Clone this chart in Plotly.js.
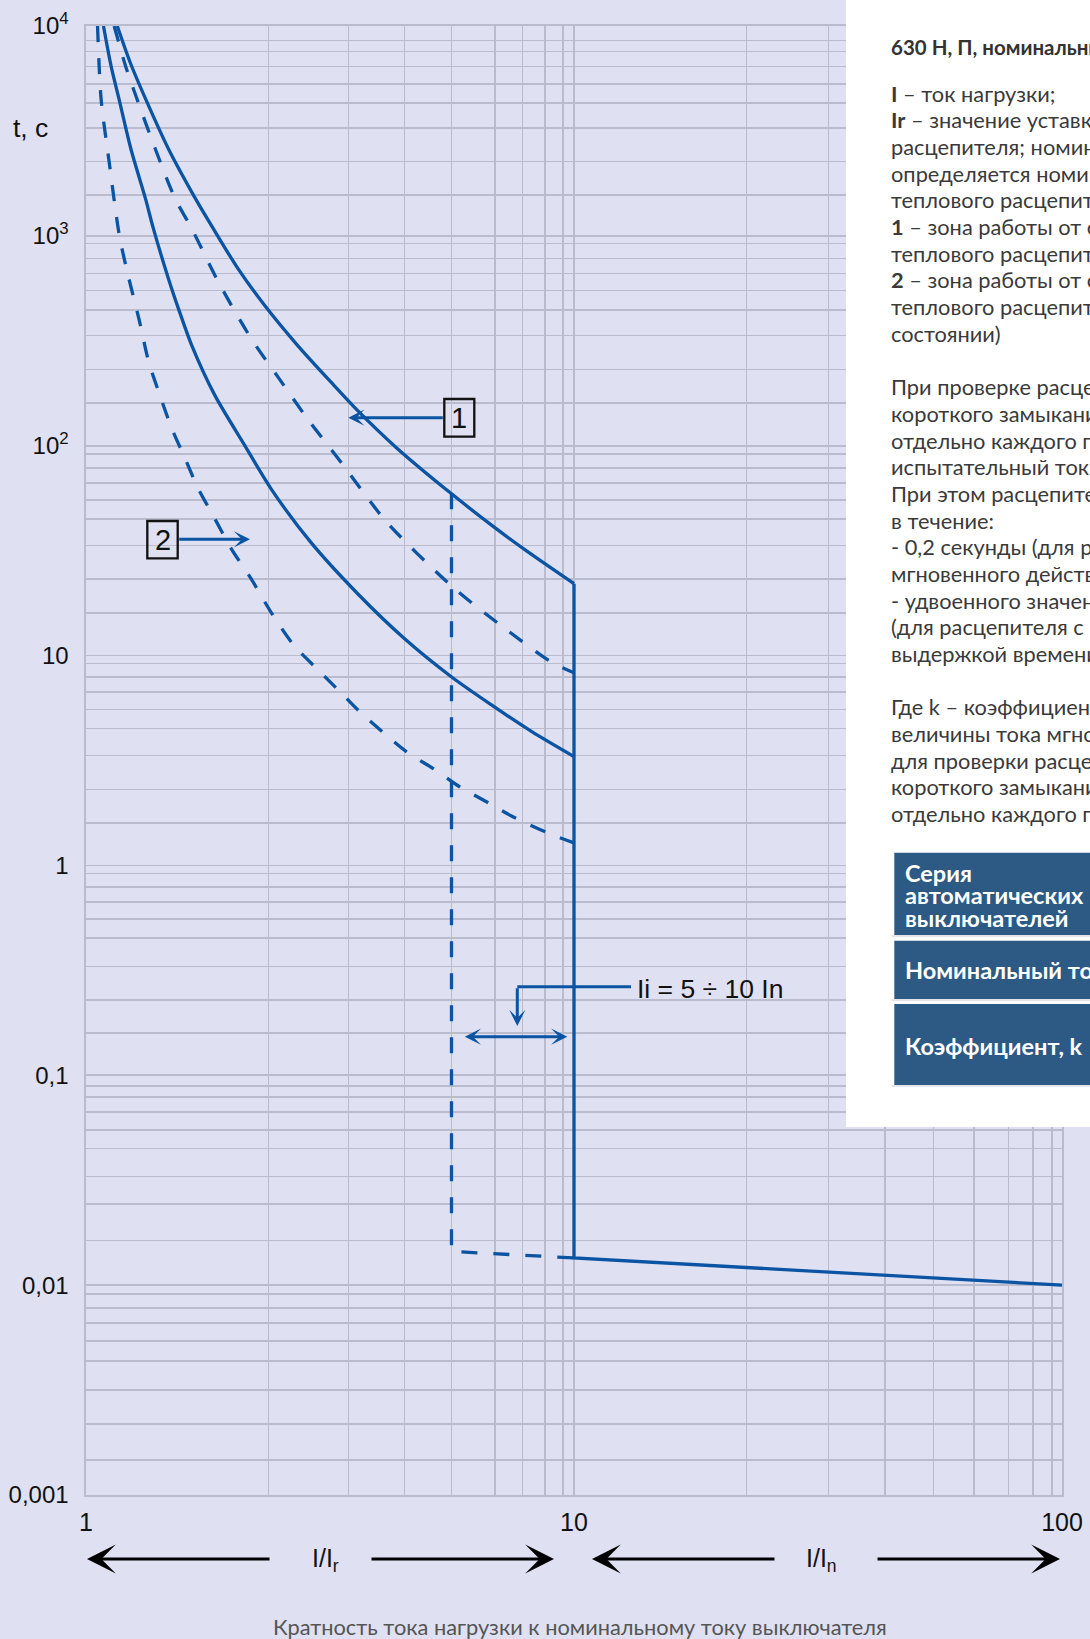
<!DOCTYPE html>
<html>
<head>
<meta charset="utf-8">
<script src="https://cdn.plot.ly/plotly-3.0.1.min.js"></script>
<style>
html,body{margin:0;padding:0;background:#dfe0f1;}
#chart{width:1090px;height:1639px;}
</style>
</head>
<body>
<div id="chart"></div>
<script>
// ---------- DATA ----------
// Zone 1, outer solid curve (upper limit) — I/Ir vs t, s
const curve1Upper_x = [1.159, 1.233, 1.326, 1.476, 1.667, 1.822, 2.047, 2.320, 2.710, 3.218, 3.587, 4.325, 5.595, 6.797, 7.941, 10];
const curve1Upper_y = [10000, 6663, 4468, 2593, 1538, 1085, 700, 468, 301.7, 194.5, 148.6, 97.9, 59.3, 41.6, 31.87, 22.0];
// Zone 1, inner solid curve (lower limit)
const curve1Lower_x = [1.086, 1.126, 1.169, 1.236, 1.324, 1.374, 1.475, 1.559, 1.646, 1.836, 2.113, 2.393, 2.884, 3.604, 4.497, 5.595, 6.797, 8.194, 10];
const curve1Lower_y = [10000, 6421, 4468, 2593, 1504, 1085, 627, 427, 301.7, 174.2, 100.7, 62.5, 34.8, 19.71, 12.02, 7.95, 5.79, 4.34, 3.30];
// Zone 2, dashed upper curve
const curve2Upper_x = [1.142, 1.206, 1.273, 1.387, 1.523, 1.646, 1.874, 2.179, 2.469, 2.840, 3.345, 4.128, 5.595, 7.010, 8.999, 10];
const curve2Upper_y = [10000, 6421, 4468, 2593, 1504, 1085, 593.8, 324.7, 213.9, 134.9, 82.3, 43.4, 21.6, 14.17, 9.30, 8.28];
// Zone 2, dashed lower curve
const curve2Lower_x = [1.056, 1.074, 1.115, 1.171, 1.224, 1.283, 1.344, 1.409, 1.499, 1.596, 1.698, 1.836, 1.984, 2.179, 2.393, 2.669, 3.022, 3.372, 3.643, 4.532, 5.137, 5.816, 6.690, 7.465, 8.999, 10];
const curve2Lower_y = [10000, 4468, 2268, 998, 627, 404.4, 251.4, 180.8, 120.9, 87.0, 62.5, 44.96, 32.3, 23.24, 16.12, 11.16, 8.34, 6.46, 5.39, 3.485, 2.904, 2.378, 1.982, 1.714, 1.403, 1.281];
// Instantaneous release, solid (Ii = 10 In) and its horizontal tail to 100
const instMax_x = [10, 10, 100];
const instMax_y = [22.0, 0.01348, 0.01];
// Instantaneous release, dashed (lower setting)
const instMin_x = [5.61, 5.61, 10];
const instMin_y = [59.3, 0.01448, 0.01348];

// Axis tick labels
const xTickVals = [1, 10, 100];
const xTickText = ['1', '10', '100'];
const yTickVals = [0.001, 0.01, 0.1, 1, 10, 100, 1000, 10000];
const yTickText = ['0,001', '0,01', '0,1', '1', '10', '10<sup>2</sup>', '10<sup>3</sup>', '10<sup>4</sup>'];
// Grid lines as drawn (between decades)
const xGridVals = [2.367, 3.451, 4.497, 5.613, 6.880, 7.844, 8.733, 9.486,
                   22.58, 33.23, 43.4, 54.57, 66.03, 77.68, 87.1, 95.35];
const yGridVals = [8520, 7560, 6400, 5300, 4290, 3260, 2258, 1566,
                   921, 781, 663, 548, 443, 334.5, 231, 160.3,
                   91.6, 78.5, 66.6, 55.0, 44.6, 33.5, 23.2, 16.0,
                   9.17, 7.90, 6.71, 5.53, 4.49, 3.34, 2.30, 1.594,
                   0.914, 0.791, 0.669, 0.554, 0.450, 0.330, 0.2287, 0.1589,
                   0.0887, 0.0790, 0.0668, 0.0549, 0.0448, 0.0330, 0.0243, 0.0163,
                   0.00908, 0.0078, 0.00659, 0.00542, 0.00436, 0.00317, 0.00218, 0.00147];

// Side panel text
const panelTitle = '<b>630 Н, П, номинальный ток 250–630 А</b>';
const panelLines = [
  '<b>I</b> – ток нагрузки;',
  '<b>Ir</b> – значение уставки теплового',
  'расцепителя; номинальный ток',
  'определяется номинальным током',
  'теплового расцепителя;',
  '<b>1</b> – зона работы от срабатывания',
  'теплового расцепителя;',
  '<b>2</b> – зона работы от срабатывания',
  'теплового расцепителя (в нагретом',
  'состоянии)',
  '',
  'При проверке расцепителей',
  'короткого замыкания проверяется',
  'отдельно каждого полюса,',
  'испытательный ток равен',
  'При этом расцепитель должен сработать',
  'в течение:',
  '- 0,2 секунды (для расцепителя',
  'мгновенного действия);',
  '- удвоенного значения уставки',
  '(для расцепителя с кратковременной',
  'выдержкой времени)',
  '',
  'Где k – коэффициент для расчета',
  'величины тока мгновенного срабатывания',
  'для проверки расцепителей',
  'короткого замыкания',
  'отдельно каждого полюса'
];
const tableRows = [
  ['Серия', 'автоматических', 'выключателей'],
  ['Номинальный ток, А'],
  ['Коэффициент, k']
];

// ---------- STYLE ----------
const BLUE = '#0a54a3';
const GRID = '#babbcd';
const BG = '#dfe0f1';
const NUM_FONT = '"Liberation Sans", Arial, sans-serif';
const TXT_FONT = 'Lato, "Open Sans", sans-serif';

// pixel -> paper helpers (plot area: left 86, right 1062, top 26, bottom 1495)
const PL = 86, PR = 1062, PT = 26, PB = 1495;
const px = p => (p - PL) / (PR - PL);
const py = p => (PB - p) / (PB - PT);

const traces = [
  {x: curve1Upper_x, y: curve1Upper_y, mode: 'lines', line: {color: BLUE, width: 3.3, shape: 'spline', smoothing: 0.8}},
  {x: instMax_x, y: instMax_y, mode: 'lines', line: {color: BLUE, width: 3.3}},
  {x: curve1Lower_x, y: curve1Lower_y, mode: 'lines', line: {color: BLUE, width: 3.3, shape: 'spline', smoothing: 0.8}},
  {x: curve2Upper_x, y: curve2Upper_y, mode: 'lines', line: {color: BLUE, width: 3.3, dash: '16px,16px', shape: 'spline', smoothing: 0.8}},
  {x: curve2Lower_x, y: curve2Lower_y, mode: 'lines', line: {color: BLUE, width: 3.3, dash: '16px,16px', shape: 'spline', smoothing: 0.8}},
  {x: instMin_x, y: instMin_y, mode: 'lines', line: {color: BLUE, width: 3.3, dash: '16px,16px'}}
];

const shapes = [];
const annotations = [];

// white side panel
shapes.push({type: 'rect', xref: 'paper', yref: 'paper', x0: px(846), x1: px(1100), y0: py(1127), y1: py(-5),
  fillcolor: '#ffffff', line: {width: 0}, layer: 'above'});
// table cells
const cellBounds = [[852.7, 935], [940.7, 999], [1004, 1085]];
cellBounds.forEach(b => {
  shapes.push({type: 'rect', xref: 'paper', yref: 'paper', x0: px(894.3), x1: px(1100), y0: py(b[1]), y1: py(b[0]),
    fillcolor: '#2c5a85', line: {width: 0}, layer: 'above'});
  shapes.push({type: 'line', xref: 'paper', yref: 'paper', x0: px(891.5), x1: px(1100), y0: py(b[1] + 1), y1: py(b[1] + 1),
    line: {color: '#c9cbd6', width: 1}, layer: 'above'});
});
// label boxes 1 and 2
shapes.push({type: 'rect', xref: 'paper', yref: 'paper', x0: px(444.3), x1: px(474.3), y0: py(436.7), y1: py(399),
  line: {color: '#111', width: 2.3}, fillcolor: 'rgba(0,0,0,0)', layer: 'above'});
shapes.push({type: 'rect', xref: 'paper', yref: 'paper', x0: px(147.3), x1: px(177.7), y0: py(558.3), y1: py(521),
  line: {color: '#111', width: 2.3}, fillcolor: 'rgba(0,0,0,0)', layer: 'above'});
// Ii leader horizontal
shapes.push({type: 'line', xref: 'paper', yref: 'paper', x0: px(517.3), x1: px(631), y0: py(986.7), y1: py(986.7),
  line: {color: BLUE, width: 3}, layer: 'above'});

// box texts
annotations.push({xref: 'paper', yref: 'paper', x: px(459.3), y: py(417.8), text: '1', showarrow: false,
  font: {family: NUM_FONT, size: 29, color: '#111'}, xanchor: 'center', yanchor: 'middle'});
annotations.push({xref: 'paper', yref: 'paper', x: px(162.5), y: py(539.6), text: '2', showarrow: false,
  font: {family: NUM_FONT, size: 29, color: '#111'}, xanchor: 'center', yanchor: 'middle'});
// blue arrows
const arr = (tx, ty, ax, ay, side) => ({xref: 'paper', yref: 'paper', x: px(tx), y: py(ty), ax: ax, ay: ay, text: '',
  showarrow: true, arrowhead: 3, arrowsize: 0.9, arrowwidth: 3, arrowcolor: BLUE, arrowside: side || 'end',
  startarrowhead: 3, startarrowsize: 0.9, standoff: 0, startstandoff: 0});
annotations.push(arr(348.3, 417.7, 96, 0));
annotations.push(arr(250, 539.3, -72.3, 0));
annotations.push(arr(517.3, 1026, 0, -39.3));
annotations.push(arr(567.3, 1036.7, -104, 0, 'end+start'));
annotations.push({xref: 'paper', yref: 'paper', x: px(635), y: py(989), text: 'Ii = 5 ÷ 10 In', showarrow: false,
  xanchor: 'left', yanchor: 'middle', font: {family: NUM_FONT, size: 26.5, color: '#111'}});

// y-axis title
annotations.push({xref: 'paper', yref: 'paper', x: px(30), y: py(128), text: 't, c', showarrow: false,
  xanchor: 'center', yanchor: 'middle', font: {family: NUM_FONT, size: 26.5, color: '#111'}});

// bottom black arrows and labels
const bArr = (tx, ax) => ({xref: 'paper', yref: 'paper', x: px(tx), y: py(1559), ax: ax, ay: 0, text: '',
  showarrow: true, arrowhead: 3, arrowsize: 1.6, arrowwidth: 3, arrowcolor: '#000', standoff: 0});
annotations.push(bArr(87, 184));
annotations.push(bArr(554, -184));
annotations.push(bArr(592, 184));
annotations.push(bArr(1060, -184));
annotations.push({xref: 'paper', yref: 'paper', x: px(325), y: py(1560), text: 'I/I<sub>r</sub>', showarrow: false,
  xanchor: 'center', yanchor: 'middle', font: {family: NUM_FONT, size: 25, color: '#111'}});
annotations.push({xref: 'paper', yref: 'paper', x: px(821), y: py(1560), text: 'I/I<sub>n</sub>', showarrow: false,
  xanchor: 'center', yanchor: 'middle', font: {family: NUM_FONT, size: 25, color: '#111'}});
annotations.push({xref: 'paper', yref: 'paper', x: px(580), y: py(1626.7),
  text: 'Кратность тока нагрузки к номинальному току выключателя', showarrow: false,
  xanchor: 'center', yanchor: 'middle', font: {family: TXT_FONT, size: 21.8, color: '#555'}});

// panel text
annotations.push({xref: 'paper', yref: 'paper', x: px(889), y: py(46.7), text: panelTitle, showarrow: false,
  xanchor: 'left', yanchor: 'middle', font: {family: TXT_FONT, size: 20.5, color: '#333'}});
panelLines.forEach((t, k) => {
  if (!t) return;
  annotations.push({xref: 'paper', yref: 'paper', x: px(889), y: py(93.3 + 26.67 * k), text: t, showarrow: false,
    xanchor: 'left', yanchor: 'middle', font: {family: TXT_FONT, size: 21.8, color: '#3a3a3a'}});
});
const cellLineY = [[872.7, 895, 918.3], [970], [1046]];
tableRows.forEach((rows, i) => {
  rows.forEach((t, j) => {
    annotations.push({xref: 'paper', yref: 'paper', x: px(903.3), y: py(cellLineY[i][j]), text: t, showarrow: false,
      xanchor: 'left', yanchor: 'middle', font: {family: TXT_FONT, size: 23.5, color: '#ffffff', weight: 700}});
  });
});

const layout = {
  width: 1090, height: 1639,
  margin: {l: PL, r: 1090 - PR, t: PT, b: 1639 - PB, pad: 0},
  paper_bgcolor: BG, plot_bgcolor: BG,
  showlegend: false,
  xaxis: {
    type: 'log', range: [0, 2], fixedrange: true,
    tickmode: 'array', tickvals: xTickVals, ticktext: xTickText, ticks: '',
    ticklabelstandoff: 4,
    tickfont: {family: NUM_FONT, size: 25, color: '#111'},
    showgrid: true, gridcolor: GRID, gridwidth: 1.6,
    showline: true, mirror: true, linecolor: GRID, linewidth: 1.6, zeroline: false,
    minor: {tickmode: 'array', tickvals: xGridVals, showgrid: true, gridcolor: GRID, gridwidth: 1.6, ticks: ''}
  },
  yaxis: {
    type: 'log', range: [-3, 4], fixedrange: true,
    tickmode: 'array', tickvals: yTickVals, ticktext: yTickText, ticks: '',
    ticklabelstandoff: 11,
    tickfont: {family: NUM_FONT, size: 24, color: '#111'},
    showgrid: true, gridcolor: GRID, gridwidth: 1.6,
    showline: true, mirror: true, linecolor: GRID, linewidth: 1.6, zeroline: false,
    minor: {tickmode: 'array', tickvals: yGridVals, showgrid: true, gridcolor: GRID, gridwidth: 1.6, ticks: ''}
  },
  shapes: shapes,
  annotations: annotations
};

Plotly.newPlot('chart', traces, layout, {displayModeBar: false, staticPlot: true});
</script>
</body>
</html>
